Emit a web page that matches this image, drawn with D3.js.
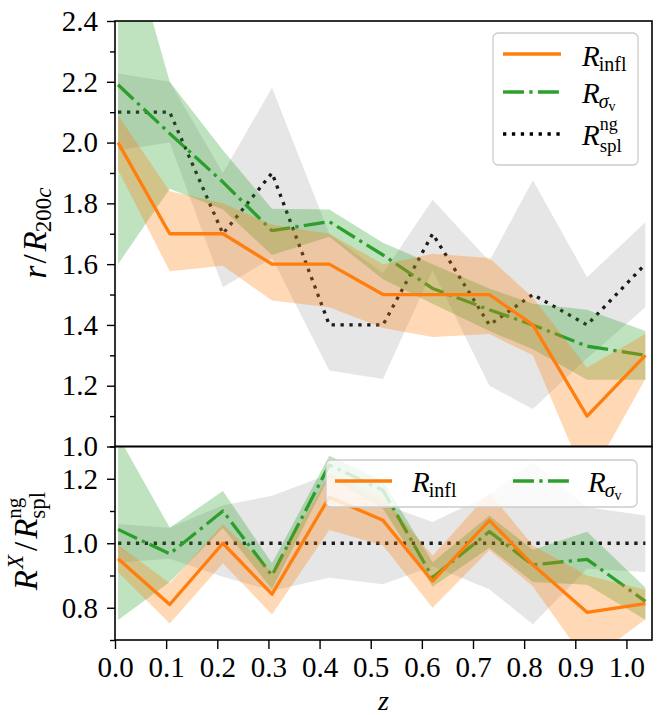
<!DOCTYPE html>
<html>
<head>
<meta charset="utf-8">
<script src="https://cdn.jsdelivr.net/npm/d3@7"></script>
<style>
  body { margin: 0; background: #fff; }
  svg { display: block; }
  text { font-family: "Liberation Serif", "DejaVu Serif", serif; fill: #000; }
</style>
</head>
<body>
<svg id="chart" width="660" height="715"></svg>
<script>
// Redshift of each snapshot
const redshift = [0.006, 0.107, 0.211, 0.307, 0.419, 0.524, 0.621, 0.732, 0.817, 0.923, 1.037];

// Upper panel: radii in units of R200c (median and band)
const rInfl   = [2.0, 1.7, 1.7, 1.6, 1.6, 1.5, 1.5, 1.5, 1.4, 1.1, 1.3];
const rInflLo = [1.91, 1.577, 1.595, 1.48, 1.458, 1.39, 1.36, 1.37, 1.30, 0.88, 1.222];
const rInflHi = [2.09, 1.84, 1.80, 1.73, 1.70, 1.60, 1.634, 1.62, 1.49, 1.26, 1.37];

const rSigma   = [2.19, 2.03, 1.87, 1.71, 1.74, 1.63, 1.52, 1.45, 1.40, 1.33, 1.30];
const rSigmaLo = [1.60, 1.848, 1.78, 1.63, 1.69, 1.55, 1.47, 1.38, 1.32, 1.22, 1.22];
const rSigmaHi = [2.80, 2.20, 1.975, 1.782, 1.78, 1.67, 1.60, 1.52, 1.47, 1.45, 1.38];

const rSpl   = [2.1, 2.1, 1.7, 1.9, 1.4, 1.4, 1.7, 1.4, 1.5, 1.4, 1.6];
const rSplLo = [1.975, 2.0, 1.524, 1.62, 1.25, 1.222, 1.58, 1.2, 1.123, 1.29, 1.458];
const rSplHi = [2.227, 2.2, 1.9, 2.18, 1.70, 1.57, 1.812, 1.61, 1.876, 1.557, 1.738];

// Lower panel: ratios to the splashback radius
const ratioInfl   = [0.952, 0.810, 1.0, 0.842, 1.143, 1.071, 0.882, 1.071, 0.933, 0.786, 0.813];
const ratioInflLo = [0.910, 0.751, 0.938, 0.779, 1.041, 0.993, 0.800, 0.979, 0.867, 0.629, 0.764];
const ratioInflHi = [0.995, 0.876, 1.059, 0.911, 1.214, 1.143, 0.961, 1.157, 0.993, 0.900, 0.856];

const ratioSigma   = [1.043, 0.967, 1.1, 0.9, 1.243, 1.164, 0.894, 1.036, 0.933, 0.95, 0.82];
const ratioSigmaLo = [0.762, 0.880, 1.047, 0.858, 1.207, 1.107, 0.865, 0.986, 0.880, 0.871, 0.763];
const ratioSigmaHi = [1.333, 1.048, 1.162, 0.938, 1.271, 1.193, 0.941, 1.086, 0.980, 1.036, 0.863];

const ratioSpl   = [1, 1, 1, 1, 1, 1, 1, 1, 1, 1, 1];
const ratioSplLo = [0.940, 0.952, 0.896, 0.853, 0.893, 0.873, 0.929, 0.857, 0.749, 0.921, 0.911];
const ratioSplHi = [1.060, 1.048, 1.118, 1.147, 1.214, 1.121, 1.066, 1.150, 1.251, 1.112, 1.086];

// Tick values
const zTicks = [0, 0.1, 0.2, 0.3, 0.4, 0.5, 0.6, 0.7, 0.8, 0.9, 1.0];
const topTicks = [1.0, 1.2, 1.4, 1.6, 1.8, 2.0, 2.2, 2.4];
const topMinor = [1.1, 1.3, 1.5, 1.7, 1.9, 2.1, 2.3];
const botTicks = [0.8, 1.0, 1.2];
const botMinor = [0.7, 0.9, 1.1, 1.3];

const ORANGE = "#ff7f0e", GREEN = "#2ca02c", BLACK = "#000000";
const LW = 3.3;
const DASHDOT = "21,5.3,3.3,5.3";
const DOTTED = "3.3,5.6";

const svg = d3.select("#chart");
const left = 115, right = 652, topY = 21, midY = 446.5, botY = 640;

const x = d3.scaleLinear().domain([0, 1.05]).range([left, right]);
const yTop = d3.scaleLinear().domain([1.0, 2.4]).range([midY, topY]);
const yBot = d3.scaleLinear().domain([0.7, 1.3]).range([botY, midY]);

const defs = svg.append("defs");
defs.append("clipPath").attr("id", "clipTop").append("rect")
  .attr("x", left).attr("y", topY).attr("width", right - left).attr("height", midY - topY);
defs.append("clipPath").attr("id", "clipBot").append("rect")
  .attr("x", left).attr("y", midY).attr("width", right - left).attr("height", botY - midY);

const idx = d3.range(redshift.length);

function drawPanel(clipId, y, series) {
  const g = svg.append("g").attr("clip-path", `url(#${clipId})`);
  series.forEach(s => {
    g.append("path")
      .attr("d", d3.line().x(i => x(redshift[i])).y(i => y(s.mid[i]))(idx))
      .attr("fill", "none").attr("stroke", s.color).attr("stroke-width", LW)
      .attr("stroke-linejoin", "round").attr("stroke-linecap", "butt")
      .attr("stroke-dasharray", s.dash || null);
    g.append("path")
      .attr("d", d3.area().x(i => x(redshift[i])).y0(i => y(s.lo[i])).y1(i => y(s.hi[i]))(idx))
      .attr("fill", s.fill).attr("fill-opacity", s.alpha).attr("stroke", "none");
  });
}

drawPanel("clipTop", yTop, [
  { mid: rSpl, lo: rSplLo, hi: rSplHi, color: BLACK, dash: DOTTED, fill: "#808080", alpha: 0.2 },
  { mid: rSigma, lo: rSigmaLo, hi: rSigmaHi, color: GREEN, dash: DASHDOT, fill: GREEN, alpha: 0.3 },
  { mid: rInfl, lo: rInflLo, hi: rInflHi, color: ORANGE, dash: null, fill: ORANGE, alpha: 0.3 }
]);
drawPanel("clipBot", yBot, [
  { mid: ratioSpl, lo: ratioSplLo, hi: ratioSplHi, color: BLACK, dash: DOTTED, fill: "#808080", alpha: 0.2 },
  { mid: ratioSigma, lo: ratioSigmaLo, hi: ratioSigmaHi, color: GREEN, dash: DASHDOT, fill: GREEN, alpha: 0.3 },
  { mid: ratioInfl, lo: ratioInflLo, hi: ratioInflHi, color: ORANGE, dash: null, fill: ORANGE, alpha: 0.3 }
]);

// Axes
const FS = 29;
function styleAxis(g) {
  g.select(".domain").remove();
  g.selectAll(".tick line").attr("stroke", "#000").attr("stroke-width", 1.4);
  g.selectAll(".tick text").attr("font-family", '"Liberation Serif", "DejaVu Serif", serif')
    .attr("font-size", FS).attr("fill", "#000");
  g.attr("font-family", null).attr("font-size", null);
}

svg.append("g").attr("transform", `translate(${left},0)`)
  .call(d3.axisLeft(yTop).tickValues(topTicks).tickFormat(d3.format(".1f")).tickSize(8).tickPadding(9))
  .call(styleAxis);
svg.append("g").attr("transform", `translate(${left},0)`)
  .call(d3.axisLeft(yTop).tickValues(topMinor).tickFormat("").tickSize(5))
  .call(styleAxis);
svg.append("g").attr("transform", `translate(${left},0)`)
  .call(d3.axisLeft(yBot).tickValues(botTicks).tickFormat(d3.format(".1f")).tickSize(8).tickPadding(9))
  .call(styleAxis);
svg.append("g").attr("transform", `translate(${left},0)`)
  .call(d3.axisLeft(yBot).tickValues(botMinor).tickFormat("").tickSize(5))
  .call(styleAxis);
svg.append("g").attr("transform", `translate(0,${botY})`)
  .call(d3.axisBottom(x).tickValues(zTicks).tickFormat(d3.format(".1f")).tickSize(9).tickPadding(7))
  .call(styleAxis);

// Frames
[[topY, midY], [midY, botY]].forEach(([a, b]) => {
  svg.append("rect").attr("x", left).attr("y", a).attr("width", right - left).attr("height", b - a)
    .attr("fill", "none").attr("stroke", "#000").attr("stroke-width", 1.6);
});

// Math-style label builder: sequence of segments with italic/size/baseline shift
function mathLabel(parent, segs) {
  let cursor = 0, prevStart = 0, prevEnd = 0;
  segs.forEach(s => {
    const start = (s.stack ? prevStart : cursor) + (s.lead || 0);
    const t = parent.append("text")
      .attr("x", start).attr("y", s.shift || 0)
      .attr("font-size", s.size)
      .attr("font-style", s.it ? "italic" : "normal")
      .text(s.t);
    const w = t.node().getComputedTextLength();
    const end = start + w + (s.pad || 0);
    if (s.stack) { cursor = Math.max(prevEnd, end); }
    else { cursor = end; }
    prevStart = start; prevEnd = end;
  });
  return cursor;
}

const SUB = 20, SUBSH = 5;

function labelInfl(g) {
  return mathLabel(g, [{ t: "R", it: 1, size: FS, pad: -1 }, { t: "infl", size: SUB, shift: SUBSH }]);
}
function labelSigma(g) {
  return mathLabel(g, [{ t: "R", it: 1, size: FS, pad: -1 }, { t: "σ", it: 1, size: SUB, shift: SUBSH },
    { t: "v", size: 14, shift: SUBSH + 3 }]);
}
function labelSpl(g) {
  return mathLabel(g, [{ t: "R", it: 1, size: FS, pad: 0 }, { t: "ng", size: 18, shift: -15 },
    { t: "spl", size: 19, shift: 7, stack: true }]);
}

// Axis titles
const TFS = 33, TSUB = 23;
function rotatedLabel(cx, cy, build) {
  const outer = svg.append("g").attr("transform", `translate(${cx},${cy}) rotate(-90)`);
  const inner = outer.append("g");
  const w = build(inner);
  inner.attr("transform", `translate(${-w / 2},0)`);
}
rotatedLabel(46, 233, g => mathLabel(g, [
  { t: "r", it: 1, size: TFS, pad: 2 }, { t: "/", size: TFS, pad: 3 }, { t: "R", it: 1, size: TFS, pad: -1 },
  { t: "200", size: TSUB, shift: 5 }, { t: "c", it: 1, size: TSUB, shift: 5 }
]));
rotatedLabel(37, 541, g => mathLabel(g, [
  { t: "R", it: 1, size: TFS, pad: 1 }, { t: "X", it: 1, size: TSUB, shift: -14, pad: 4 },
  { t: "/", size: TFS, pad: 3 }, { t: "R", it: 1, size: TFS }, { t: "ng", size: 21, shift: -16 },
  { t: "spl", size: TSUB, shift: 8, stack: true }
]));
svg.append("text").attr("x", (left + right) / 2).attr("y", 710).attr("text-anchor", "middle")
  .attr("font-size", 28).attr("font-style", "italic").text("z");

// Legends
function legendBox(x0, y0, w, h) {
  svg.append("rect").attr("x", x0).attr("y", y0).attr("width", w).attr("height", h).attr("rx", 5)
    .attr("fill", "#fff").attr("fill-opacity", 0.8).attr("stroke", "#cccccc").attr("stroke-width", 1.3);
}
function legendHandle(x0, x1, yy, color, dash) {
  svg.append("line").attr("x1", x0).attr("x2", x1).attr("y1", yy).attr("y2", yy)
    .attr("stroke", color).attr("stroke-width", LW).attr("stroke-dasharray", dash || null);
}

legendBox(493, 33, 145, 132);
legendHandle(503, 561, 54, ORANGE, null);
legendHandle(503, 561, 92, GREEN, DASHDOT);
legendHandle(503, 561, 134, BLACK, DOTTED);
labelInfl(svg.append("g").attr("transform", "translate(582,66)"));
labelSigma(svg.append("g").attr("transform", "translate(582,103)"));
labelSpl(svg.append("g").attr("transform", "translate(582,145)"));

legendBox(326, 460, 311, 47);
legendHandle(335, 392, 481, ORANGE, null);
legendHandle(513, 570, 481, GREEN, DASHDOT);
labelInfl(svg.append("g").attr("transform", "translate(412,492)"));
labelSigma(svg.append("g").attr("transform", "translate(588,492)"));
</script>
</body>
</html>
